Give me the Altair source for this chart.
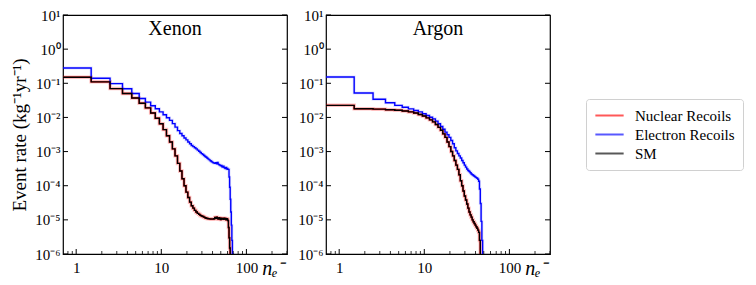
import altair as alt
import pandas as pd

# ---------------- data ----------------
# bin values for n_e = 1, 2, 3, ...
xe_er = [0.28, 0.14, 0.098, 0.069, 0.050, 0.036, 0.028, 0.022, 0.018, 0.0145,
         0.012, 0.0098, 0.0082, 0.0066, 0.0052, 0.0041, 0.0034, 0.0029, 0.0025, 0.0022,
         0.0019, 0.0017, 0.0015, 0.0014, 0.0013, 0.0012, 0.0011, 0.00102, 0.00094, 0.00087,
         0.00082, 0.00077, 0.00072, 0.00068, 0.00064, 0.00060, 0.00057, 0.00054, 0.00051, 0.00049,
         0.00047, 0.00046, 0.00045, 0.00047, 0.00044, 0.00048, 0.00043, 0.00041, 0.00040, 0.00038,
         0.00039, 0.00036, 0.00035, 0.00037, 0.00034, 0.00033, 0.00032, 0.00034, 0.00031, 0.00032,
         0.00030, 0.00030, 0.00018, 9e-5, 4e-5, 1.7e-5, 7e-6, 2.5e-6, 1e-6, 3e-7]
xe_sm = [0.15, 0.11, 0.07, 0.05, 0.037, 0.026, 0.019, 0.0135, 0.0095, 0.0065,
         0.0044, 0.0029, 0.0019, 0.0012, 0.00075, 0.00045, 0.00027, 0.00016, 0.0001, 6.5e-5,
         4.5e-5, 3.3e-5, 2.6e-5, 2.2e-5, 1.9e-5, 1.7e-5, 1.55e-5, 1.45e-5, 1.35e-5, 1.3e-5,
         1.25e-5, 1.2e-5, 1.15e-5, 1.12e-5, 1.1e-5, 1.08e-5, 1.07e-5, 1.06e-5, 1.05e-5, 1.05e-5,
         1.06e-5, 1.08e-5, 1.18e-5, 1.12e-5, 1.2e-5, 1.1e-5, 1.05e-5, 1.15e-5, 1.08e-5, 1.02e-5,
         1.12e-5, 1.05e-5, 1.1e-5, 1.03e-5, 1.12e-5, 1.05e-5, 1.1e-5, 1.0e-5, 1.08e-5, 1.04e-5,
         9.5e-6, 6e-6, 3e-6, 1.5e-6, 7e-7, 2e-7]
xe_nr = list(xe_sm)
xe_nr_lo = [0.095, 0.088, 0.062]
xe_nr_hi = [0.20, 0.125, 0.078]
xe_er_lo = [0.25, 0.13]
xe_er_hi = [0.31, 0.152]

ar_er = [0.153, 0.052, 0.034, 0.027, 0.0225, 0.0198, 0.0178, 0.016, 0.0145, 0.0128,
         0.0114, 0.0101, 0.0091, 0.0078, 0.0065, 0.0054, 0.0045, 0.0037, 0.0031, 0.0026,
         0.0021, 0.0017, 0.0013, 0.00105, 0.00088, 0.00075, 0.00065, 0.00055, 0.00047, 0.0004,
         0.00035, 0.00031, 0.00028, 0.00026, 0.00024, 0.00022, 0.00021, 0.0002, 0.00019, 0.00018,
         0.000172, 0.000165, 0.000155, 0.000135, 8e-5, 3e-5, 9e-6, 2.5e-6, 6e-7, 1e-7]
ar_sm = [0.0226, 0.018, 0.0175, 0.0168, 0.0162, 0.0155, 0.0145, 0.0135, 0.0122, 0.011,
         0.0097, 0.0085, 0.0074, 0.0062, 0.0051, 0.0042, 0.0033, 0.0026, 0.0019, 0.0014,
         0.001, 0.00075, 0.00055, 0.0004, 0.0003, 0.00021, 0.00014, 0.0001, 7e-5, 5e-5,
         3.8e-5, 2.9e-5, 2.2e-5, 1.7e-5, 1.4e-5, 1.2e-5, 1e-5, 8.8e-6, 7.8e-6, 7e-6,
         6.3e-6, 5.7e-6, 5e-6, 4.3e-6, 2.5e-6, 9e-7, 2e-7]
ar_nr = list(ar_sm)
ar_nr_lo = [0.019]
ar_nr_hi = [0.027]
ar_er_lo = [0.147]
ar_er_hi = [0.159]

series_names = ["Nuclear Recoils", "Electron Recoils", "SM"]
series_colors = ["#ff0000", "#0000ff", "#000000"]
panel_names = ["Xenon", "Argon"]
x_major = [1, 10, 100]
x_minor = [0.8, 0.9, 2, 3, 4, 5, 6, 7, 8, 9, 20, 30, 40, 50, 60, 70, 80, 90, 200, 300]
y_exponents = [-6, -5, -4, -3, -2, -1, 0, 1]
x_domain = [0.7, 300]

W, H = 224, 239
SERIF = "Liberation Serif"

sup = {"-": "\u207b", "0": "\u2070", "1": "\u00b9", "2": "\u00b2", "3": "\u00b3",
       "4": "\u2074", "5": "\u2075", "6": "\u2076", "7": "\u2077", "8": "\u2078", "9": "\u2079"}


def sup_str(e):
    return "".join(sup[c] for c in str(e))


parts = []
for e in sorted(y_exponents, reverse=True):
    parts.append(f"datum.value > {10.0 ** e * 0.5} ? '10{sup_str(e)}'")
y_label_expr = " : ".join(parts) + " : ''"

y_values = [10.0 ** e for e in y_exponents]
xscale = alt.Scale(type="log", domain=x_domain, nice=False)
yscale = alt.Scale(type="log", domain=[1e-6, 10], nice=False)


def step_rows(vals, label):
    rows = []
    for i, v in enumerate(vals):
        n = i + 1
        rows.append({"series": label, "x": n - 0.5, "y": v, "o": 2 * i})
        rows.append({"series": label, "x": n + 0.5, "y": v, "o": 2 * i + 1})
    return rows


def band_rows(lo, hi, label):
    rows = []
    for i, (a, b) in enumerate(zip(lo, hi)):
        n = i + 1
        rows.append({"series": label, "x": n - 0.5, "lo": a, "hi": b, "o": 2 * i})
        rows.append({"series": label, "x": n + 0.5, "lo": a, "hi": b, "o": 2 * i + 1})
    return rows


def panel(name, er, sm, nr, nr_lo, nr_hi, er_lo, er_hi, first):
    lines = pd.DataFrame(step_rows(nr, series_names[0]) + step_rows(er, series_names[1])
                         + step_rows(sm, series_names[2]))
    bands_nr = pd.DataFrame(band_rows(nr_lo, nr_hi, "nr"))
    bands_er = pd.DataFrame(band_rows(er_lo, er_hi, "er"))

    xaxis = alt.Axis(values=x_major, labelExpr="format(datum.value, 'd')", ticks=False,
                     domain=False, grid=False, labelFont=SERIF, labelFontSize=15,
                     labelPadding=6, labelColor="black",
                     title="n\u2091\u207b", titleFont=SERIF, titleFontStyle="italic",
                     titleFontWeight="normal", titleFontSize=20, titleAnchor="end",
                     titleAlign="right", titleBaseline="top", titleX=W - 3, titleY=4,
                     titleColor="black")
    yaxis = alt.Axis(values=y_values, labelExpr=y_label_expr, ticks=False, domain=False,
                     grid=False, labelFont=SERIF, labelFontSize=15, labelPadding=3,
                     labelColor="black",
                     title=("Event rate (kg\u207b\u00b9yr\u207b\u00b9)" if first else None),
                     titleFont=SERIF, titleFontWeight="normal", titleFontSize=19,
                     titleColor="black", titlePadding=5)

    base_x = alt.X("x:Q", scale=xscale, axis=xaxis)

    band_nr = alt.Chart(bands_nr).mark_area(color="#ff0000", opacity=0.55, clip=True,
                                            interpolate="linear").encode(
        x=base_x, y=alt.Y("lo:Q", scale=yscale, axis=yaxis), y2="hi:Q", order="o:Q")
    band_sm = alt.Chart(bands_nr).mark_area(color="#000000", opacity=0.45, clip=True).encode(
        x=alt.X("x:Q", scale=xscale), y=alt.Y("lo:Q", scale=yscale), y2="hi:Q", order="o:Q")
    band_er = alt.Chart(bands_er).mark_area(color="#0000ff", opacity=0.3, clip=True).encode(
        x=alt.X("x:Q", scale=xscale), y=alt.Y("lo:Q", scale=yscale), y2="hi:Q", order="o:Q")

    halo_nr = alt.Chart(lines[lines.series == series_names[0]]).mark_line(
        color="#ff0000", opacity=0.25, strokeWidth=3.5, clip=True).encode(
        x=alt.X("x:Q", scale=xscale), y=alt.Y("y:Q", scale=yscale), order="o:Q")
    halo_er = alt.Chart(lines[lines.series == series_names[1]]).mark_line(
        color="#0000ff", opacity=0.12, strokeWidth=3, clip=True).encode(
        x=alt.X("x:Q", scale=xscale), y=alt.Y("y:Q", scale=yscale), order="o:Q")

    main = alt.Chart(lines).mark_line(strokeWidth=1.4, clip=True).encode(
        x=alt.X("x:Q", scale=xscale),
        y=alt.Y("y:Q", scale=yscale),
        color=alt.Color("series:N", scale=alt.Scale(domain=series_names, range=series_colors),
                        sort=series_names, legend=alt.Legend(title=None)),
        order="o:Q")

    tick_df_y = pd.DataFrame({"v": y_values})
    tick_df_xM = pd.DataFrame({"v": x_major})
    tick_df_xm = pd.DataFrame({"v": x_minor})
    ty_l = alt.Chart(tick_df_y).mark_rule(color="black", strokeWidth=1).encode(
        y=alt.Y("v:Q", scale=yscale), x=alt.value(0), x2=alt.value(5))
    ty_r = alt.Chart(tick_df_y).mark_rule(color="black", strokeWidth=1).encode(
        y=alt.Y("v:Q", scale=yscale), x=alt.value(W - 5), x2=alt.value(W))
    tx_M = alt.Chart(tick_df_xM).mark_rule(color="black", strokeWidth=1).encode(
        x=alt.X("v:Q", scale=xscale), y=alt.value(H - 5), y2=alt.value(H))
    tx_m = alt.Chart(tick_df_xm).mark_rule(color="black", strokeWidth=0.8, clip=True).encode(
        x=alt.X("v:Q", scale=xscale), y=alt.value(H - 3), y2=alt.value(H))

    title = alt.Chart(pd.DataFrame({"t": [name]})).mark_text(
        font=SERIF, fontSize=20, baseline="top", align="center", color="black").encode(
        text="t:N", x=alt.value(W / 2), y=alt.value(4))

    return alt.layer(band_nr, band_sm, band_er, halo_nr, halo_er, main,
                     ty_l, ty_r, tx_M, tx_m, title).properties(width=W, height=H)


left = panel(panel_names[0], xe_er, xe_sm, xe_nr, xe_nr_lo, xe_nr_hi, xe_er_lo, xe_er_hi, True)
right = panel(panel_names[1], ar_er, ar_sm, ar_nr, ar_nr_lo, ar_nr_hi, ar_er_lo, ar_er_hi, False)

chart = alt.hconcat(left, right, spacing=8).properties(
    padding={"left": 2, "top": -1, "right": 0, "bottom": 0}
).configure_view(stroke="black", strokeWidth=1.2).configure_legend(
    orient="none", legendX=523, legendY=84, strokeColor="#d0d0d0", fillColor="white",
    padding=8, cornerRadius=3, symbolType="stroke", symbolStrokeWidth=2, symbolSize=800,
    clipHeight=17, symbolOpacity=0.65, labelFont=SERIF, labelFontSize=15,
    labelColor="black", rowPadding=2, labelOffset=10
)

chart.save("out.html", embed_options={"renderer": "svg", "actions": False})
